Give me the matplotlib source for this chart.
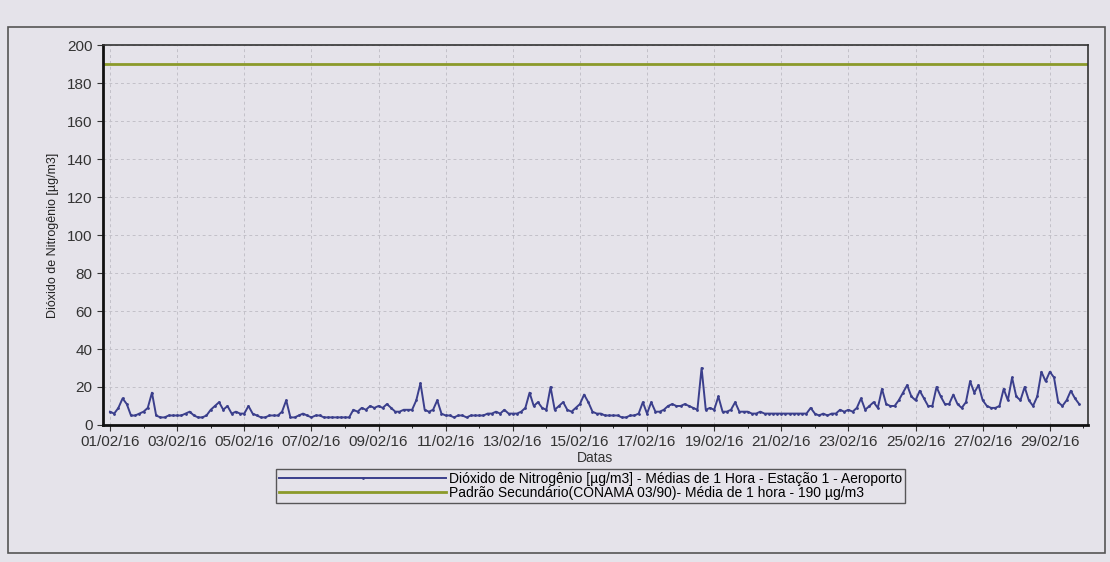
import numpy as np
import pandas as pd
import matplotlib
matplotlib.use('Agg')
import matplotlib.pyplot as plt
import matplotlib.dates as mdates
from matplotlib.patches import Rectangle

plt.rcParams['font.family'] = ['Liberation Sans', 'DejaVu Sans']

# NO2 hourly means, read every 3 h (00,03,...,21) for each day of Feb/2016
no2_by_day = [
    [7, 6, 9, 14, 11, 5, 5, 6],      # 01
    [7, 9, 17, 5, 4, 4, 5, 5],       # 02
    [5, 5, 6, 7, 5, 4, 4, 5],        # 03
    [8, 10, 12, 8, 10, 6, 7, 6],     # 04
    [6, 10, 6, 5, 4, 4, 5, 5],       # 05
    [5, 7, 13, 4, 4, 5, 6, 5],       # 06
    [4, 5, 5, 4, 4, 4, 4, 4],        # 07
    [4, 4, 8, 7, 9, 8, 10, 9],       # 08
    [10, 9, 11, 9, 7, 7, 8, 8],      # 09
    [8, 13, 22, 8, 7, 8, 13, 6],     # 10
    [5, 5, 4, 5, 5, 4, 5, 5],        # 11
    [5, 5, 6, 6, 7, 6, 8, 6],        # 12
    [6, 6, 7, 9, 17, 10, 12, 9],     # 13
    [8, 20, 8, 10, 12, 8, 7, 9],     # 14
    [11, 16, 12, 7, 6, 6, 5, 5],     # 15
    [5, 5, 4, 4, 5, 5, 6, 12],       # 16
    [6, 12, 7, 7, 8, 10, 11, 10],    # 17
    [10, 11, 10, 9, 8, 30, 8, 9],    # 18
    [8, 15, 7, 7, 8, 12, 7, 7],      # 19
    [7, 6, 6, 7, 6, 6, 6, 6],        # 20
    [6, 6, 6, 6, 6, 6, 6, 9],        # 21
    [6, 5, 6, 5, 6, 6, 8, 7],        # 22
    [8, 7, 9, 14, 8, 10, 12, 9],     # 23
    [19, 11, 10, 10, 13, 17, 21, 15],# 24
    [13, 18, 14, 10, 10, 20, 15, 11],# 25
    [11, 16, 11, 9, 12, 23, 17, 21], # 26
    [13, 10, 9, 9, 10, 19, 13, 25],  # 27
    [15, 13, 20, 13, 10, 15, 28, 23],# 28
    [28, 25, 12, 10, 13, 18, 14, 11],# 29
]
padrao = 190
tick_dias = ['2016-02-%02d' % d for d in range(1, 30, 2)]

label_no2 = u'Dióxido de Nitrogênio [µg/m3] - Médias de 1 Hora - Estação 1 - Aeroporto'
label_pad = u'Padrão Secundário(CONAMA 03/90)- Média de 1 hora - 190 µg/m3'

no2 = np.array(no2_by_day).ravel()
datas = pd.date_range('2016-02-01 00:00', periods=len(no2), freq='3h')

bg = '#e5e3ea'
fig = plt.figure(figsize=(11.1, 5.62), dpi=100, facecolor=bg)
fig.patches.append(Rectangle((8/1110, 1-553/562), 1097/1110, (553-27)/562,
                             transform=fig.transFigure, fill=False,
                             edgecolor='#555555', lw=1.2))

ax = fig.add_axes([0.0928, 0.2438, 0.887, 0.676])
ax.set_facecolor(bg)

ax.plot(datas, no2, color='#3b3f8c', lw=1.4, marker='.', markersize=2,
        label=label_no2)
ax.axhline(padrao, color='#8b9a2a', lw=2, label=label_pad)

ax.set_ylim(0, 200)
ax.set_yticks(range(0, 201, 20))
ax.set_xlim(pd.Timestamp('2016-01-31 19:00'), pd.Timestamp('2016-03-01 03:00'))
ax.set_xticks(pd.to_datetime(tick_dias))
ax.xaxis.set_major_formatter(mdates.DateFormatter('%d/%m/%y'))
ax.xaxis.set_minor_locator(mdates.DayLocator())

ax.grid(True, which='major', color='#c2c0c8', ls=(0, (3, 3)), lw=0.7)
ax.tick_params(axis='both', which='major', labelsize=11, colors='#333333',
               length=4, direction='out')
ax.tick_params(axis='x', which='minor', length=2)

for side in ['left', 'bottom']:
    ax.spines[side].set_linewidth(2)
    ax.spines[side].set_color('#111111')
for side in ['top', 'right']:
    ax.spines[side].set_linewidth(1.2)
    ax.spines[side].set_color('#333333')

ax.set_ylabel(u'Dióxido de Nitrogênio [µg/m3]', fontsize=9, color='#222222', labelpad=6)
ax.set_xlabel('Datas', fontsize=10, color='#333333', labelpad=1)

leg = fig.legend(loc='center', bbox_to_anchor=(0.532, 1-486/562), ncol=1,
                 fontsize=10, frameon=True, fancybox=False, handlelength=12,
                 handletextpad=0.2, borderpad=0.2, labelspacing=0.0, numpoints=1)
leg.get_frame().set_edgecolor('#333333')
leg.get_frame().set_facecolor(bg)
leg.get_frame().set_linewidth(1)

plt.savefig('out.png', dpi=100, facecolor=bg)
